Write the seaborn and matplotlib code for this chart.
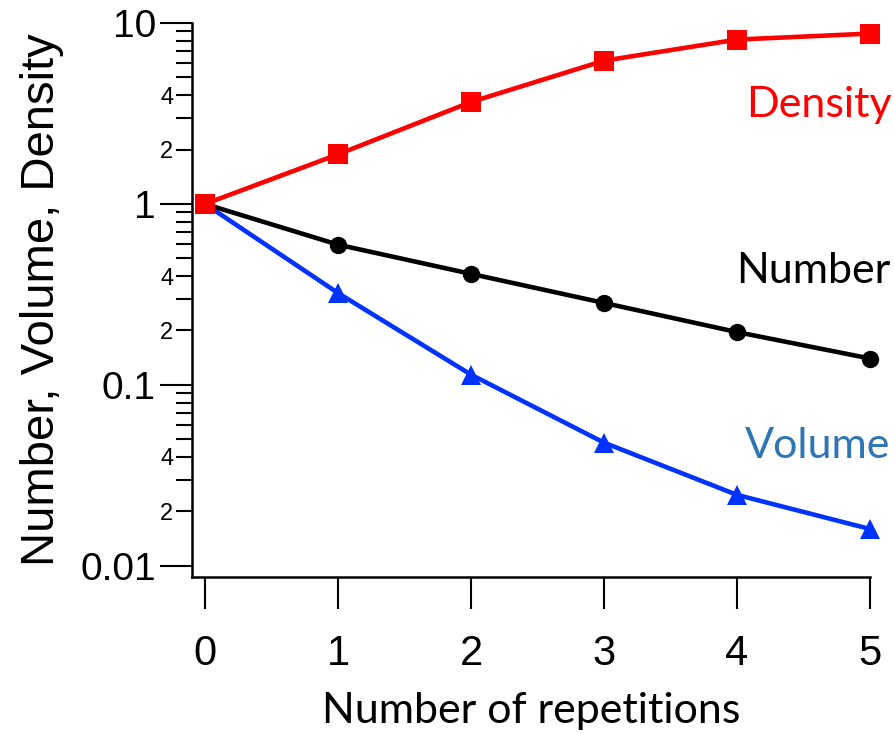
import matplotlib
matplotlib.use("Agg")
import matplotlib.pyplot as plt
import matplotlib.ticker as mticker
import seaborn as sns
import pandas as pd

repetitions = [0, 1, 2, 3, 4, 5]
density = [1.0, 1.88, 3.66, 6.19, 8.1, 8.74]
number = [1.0, 0.596, 0.411, 0.284, 0.196, 0.140]
volume = [1.0, 0.322, 0.114, 0.048, 0.0247, 0.0160]

major_ticks = [0.01, 0.1, 1, 10]
major_labels = ["0.01", "0.1", "1", "10"]
labeled_minor = [2, 4]

sns.set_style("ticks")
plt.rcParams["font.family"] = ["Liberation Sans Narrow", "Liberation Sans", "DejaVu Sans"]
plt.rcParams["text.color"] = "black"
plt.rcParams["axes.labelcolor"] = "black"
plt.rcParams["xtick.color"] = "black"
plt.rcParams["ytick.color"] = "black"
plt.rcParams["xtick.labelcolor"] = "black"
plt.rcParams["ytick.labelcolor"] = "black"

fig = plt.figure(figsize=(8.95, 7.34), dpi=100)
ax = fig.add_axes([192 / 895, 1 - 577 / 734, 678 / 895, 554 / 734])

series = [
    (volume, "#0033FF", "^", 14.5),
    (number, "black", "o", 12.5),
    (density, "#FF0000", "s", 14.5),
]
for vals, col, mk, ms in series:
    df = pd.DataFrame({"x": repetitions, "y": vals})
    sns.lineplot(data=df, x="x", y="y", ax=ax, color=col, marker=mk,
                 markersize=ms, markeredgewidth=0, linewidth=3.3,
                 clip_on=False, zorder=3)

ax.set_yscale("log")
ax.set_xlim(-0.098, 5)
ax.set_ylim(10 ** (-2.061), 10)

ax.set_xticks(repetitions)
ax.set_xticklabels([str(r) for r in repetitions])

ax.yaxis.set_major_locator(mticker.FixedLocator(major_ticks))
ax.yaxis.set_major_formatter(mticker.FixedFormatter(major_labels))
minor_locs = []
minor_labs = []
for dec in [0.01, 0.1, 1]:
    for m in range(2, 10):
        minor_locs.append(dec * m)
        minor_labs.append(str(m) if m in labeled_minor else "")
ax.yaxis.set_minor_locator(mticker.FixedLocator(minor_locs))
ax.yaxis.set_minor_formatter(mticker.FixedFormatter(minor_labs))

for s in ["top", "right"]:
    ax.spines[s].set_visible(False)
for s in ["left", "bottom"]:
    ax.spines[s].set_linewidth(1.8)
    ax.spines[s].set_color("black")

ax.tick_params(axis="y", which="major", length=23, width=1.5, pad=3,
               labelsize=28, color="black", labelcolor="black")
ax.tick_params(axis="y", which="minor", length=11.5, width=1.5, pad=2,
               labelsize=17, color="black", labelcolor="black")
ax.tick_params(axis="x", which="major", length=23, width=1.5, pad=18,
               labelsize=30, color="black", labelcolor="black")
ax.tick_params(axis="x", which="minor", length=0)

ax.set_xlabel("Number of repetitions", fontsize=31, family=["Lato", "DejaVu Sans"],
              labelpad=13, color="black")
ax.set_ylabel("Number, Volume, Density", fontsize=34,
              family=["Liberation Sans", "DejaVu Sans"], labelpad=12, color="black")

ax.text(5.16, 3.02, "Density", color="#FF0000", fontsize=31,
        family=["Lato", "DejaVu Sans"], ha="right", va="baseline")
ax.text(5.15, 0.366, "Number", color="black", fontsize=31,
        family=["Lato", "DejaVu Sans"], ha="right", va="baseline")
ax.text(5.15, 0.0396, "Volume", color="#2E75B6", fontsize=31,
        family=["Lato", "DejaVu Sans"], ha="right", va="baseline")

fig.savefig("out.png", dpi=100)
